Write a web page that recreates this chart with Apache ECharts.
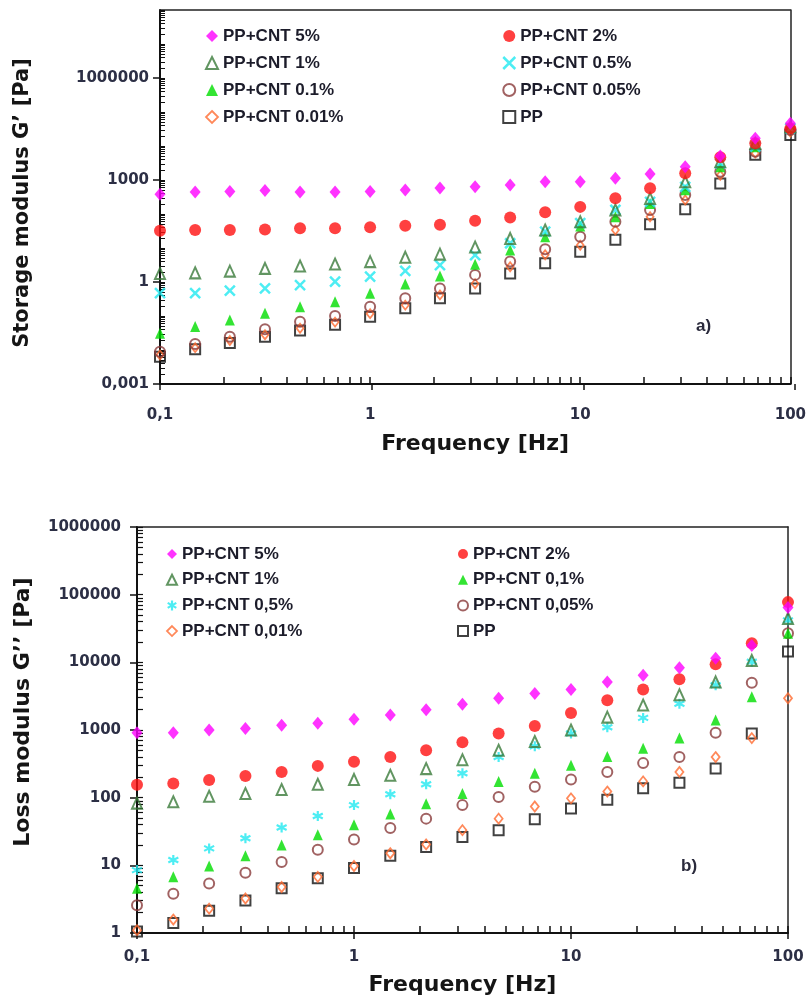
<!DOCTYPE html>
<html><head><meta charset="utf-8">
<script src="https://cdn.jsdelivr.net/npm/echarts@6/dist/echarts.min.js"></script>
<style>
html,body{margin:0;padding:0;background:#fff;width:809px;height:1005px;overflow:hidden}
#a{position:absolute;left:0;top:0;width:809px;height:480px}
#b{position:absolute;left:0;top:480px;width:809px;height:525px}
</style>
</head><body><div id="a"></div><div id="b"></div>
<script>
// ---------- data ----------
const frequency = [0.1,0.147,0.215,0.316,0.464,0.681,1,1.47,2.15,3.16,4.64,6.81,10,14.7,21.5,31.6,46.4,68.1,100];

// (a) Storage modulus G' [Pa]
const storage_5   = [380,440,460,490,440,440,460,510,580,630,710,890,890,1120,1510,2450,5100,17000,47000];
const storage_2   = [32,34,34,35,38,38,41,45,48,63,79,112,162,290,575,1580,4700,12000,33000];
const storage_1   = [1.78,1.86,2.09,2.51,2.95,3.39,3.98,5.37,6.61,10.7,19.1,33.9,58.9,132,288,891,3470,12000,37000];
const storage_05  = [0.468,0.468,0.562,0.646,0.813,1.02,1.45,2.14,3.16,6.17,13.8,30.2,53.7,132,229,631,3090,9550,33000];
const storage_01  = [0.0309,0.049,0.0759,0.12,0.186,0.263,0.468,0.871,1.51,3.31,8.71,21.4,44.7,83.2,204,513,2450,9550,35500];
const storage_005 = [0.0089,0.0151,0.0245,0.0407,0.0676,0.1,0.186,0.331,0.646,1.62,3.98,9.12,21.4,58.9,132,363,1740,6760,29500];
const storage_001 = [0.0071,0.0117,0.0191,0.0282,0.0437,0.0661,0.117,0.209,0.417,0.891,2.82,6.31,12.0,33.9,83.2,257,1380,6170,25700];
const storage_pp  = [0.0063,0.0105,0.0162,0.0245,0.0372,0.055,0.0955,0.17,0.331,0.646,1.78,3.55,7.76,17.4,50.1,138,794,5500,20900];

// (b) Loss modulus G'' [Pa]
const loss_5   = [912,912,1000,1050,1175,1260,1445,1660,2000,2400,2950,3470,3980,5130,6460,8320,11500,17800,64600];
const loss_2   = [155,162,182,209,240,295,339,398,501,661,891,1150,1780,2750,3980,5620,9330,19100,77600];
const loss_1   = [83,87,105,115,132,158,186,214,269,363,501,676,1000,1550,2340,3310,5130,10700,44700];
const loss_05  = [8.5,12.0,17.8,25.1,36.3,53.7,77.6,112,158,229,398,575,891,1100,1510,2450,4570,10200,41700];
const loss_01  = [4.57,6.76,9.77,13.8,20.0,28.2,39.8,57.5,81.3,115,174,229,302,407,537,759,1410,3090,26900];
const loss_005 = [2.57,3.8,5.37,7.76,11.2,17.0,24.0,35.5,49.0,77.6,102,145,186,240,324,398,912,5010,26900];
const loss_001 = [1.1,1.58,2.29,3.24,4.79,6.76,9.77,15.1,20.4,33.1,49.0,74.1,97.7,123,174,240,398,759,2950];
const loss_pp  = [1.05,1.41,2.14,3.02,4.57,6.46,9.12,13.8,18.6,26.3,33.1,47.9,69.2,93.3,138,166,269,891,14500];

// tick labels
const xTickValues = [0.1, 1, 10, 100];
const xTickLabels = ['0,1', '1', '10', '100'];
const storageTickValues = [0.001, 1, 1000, 1000000];
const storageTickLabels = ['0,001', '1', '1000', '1000000'];
const lossTickValues = [1, 10, 100, 1000, 10000, 100000, 1000000];
const lossTickLabels = ['1', '10', '100', '1000', '10000', '100000', '1000000'];

// legend layout (two columns)
const storageLegendCol1 = ['PP+CNT 5%', 'PP+CNT 1%', 'PP+CNT 0.1%', 'PP+CNT 0.01%'];
const storageLegendCol2 = ['PP+CNT 2%', 'PP+CNT 0.5%', 'PP+CNT 0.05%', 'PP'];
const lossLegendCol1 = ['PP+CNT 5%', 'PP+CNT 1%', 'PP+CNT 0,5%', 'PP+CNT 0,01%'];
const lossLegendCol2 = ['PP+CNT 2%', 'PP+CNT 0,1%', 'PP+CNT 0,05%', 'PP'];

// ---------- helpers ----------
function logTicks(e0, e1) {
  const out = [];
  for (let e = e0; e < e1; e++) for (let m = 1; m <= 9; m++) out.push(Number((m * Math.pow(10, e)).toPrecision(3)));
  out.push(Math.pow(10, e1));
  return out;
}
function labelFmt(values, labels) {
  return function (v) {
    for (let i = 0; i < values.length; i++) {
      if (Math.abs(Math.log10(v) - Math.log10(values[i])) < 1e-6) return labels[i];
    }
    return '';
  };
}
const X_PATH = 'path://M0,0L10,10M10,0L0,10';
const AST_PATH = 'path://M5,0L5,10M0.7,2.5L9.3,7.5M9.3,2.5L0.7,7.5';
const C = {
  magenta: '#ff00ff', red: '#ff1010', dkgreen: '#3a7a3a', cyan: '#20e8f0',
  green: '#00dd00', brown: '#8a3b3b', orange: '#ff6a30', black: '#111111'
};
function series(name, values, symbol, size, color, hollow, bw) {
  return {
    type: 'scatter', name: name,
    data: frequency.map((f, i) => [f, values[i]]),
    symbol: symbol, symbolSize: size,
    itemStyle: hollow ? { color: 'rgba(0,0,0,0)', borderColor: color, borderWidth: bw || 2 } : { color: color },
    emphasis: { disabled: true }, silent: true
  };
}
const tickFont = { fontFamily: 'DejaVu Sans', fontWeight: 'bold', fontSize: 15, color: '#2c2f45' };
const titleFont = { fontFamily: 'DejaVu Sans', fontWeight: 'bold', fontSize: 22, color: '#151515' };
const legendText = { fontFamily: 'Liberation Sans', fontWeight: 'bold', fontSize: 17, color: '#1c1c2a', lineHeight: 18 };
const lineStyle = { color: '#111', width: 2 };
const borderStyle = { color: '#222', width: 1.5 };

function buildOption(cfg) {
  const gridRect = { left: cfg.grid.left, top: cfg.grid.top, width: cfg.grid.width, height: cfg.grid.height };
  const xAll = logTicks(-1, 2);
  const yAll = logTicks(cfg.yExp[0], cfg.yExp[1]);
  const xTickStyle = { color: '#111', width: 1.5 };
  const yTickStyle = { color: '#111', width: cfg.yTickWidth };
  return {
    animation: false,
    backgroundColor: '#fff',
    grid: [
      Object.assign({ show: false }, gridRect),
      Object.assign({ show: false }, gridRect)
    ],
    xAxis: [
      {
        gridIndex: 0, type: 'log', logBase: 10, min: 0.1, max: 100, position: 'bottom',
        name: 'Frequency [Hz]', nameLocation: 'middle', nameGap: cfg.xNameGap, nameTextStyle: titleFont,
        axisLine: { show: true, onZero: false, lineStyle: lineStyle },
        axisTick: { show: true, inside: true, length: 7, customValues: xAll, lineStyle: xTickStyle },
        axisLabel: Object.assign({ customValues: xTickValues, formatter: labelFmt(xTickValues, xTickLabels), margin: cfg.xLabelMargin, showMinLabel: true, showMaxLabel: true }, tickFont),
        splitLine: { show: false }, minorTick: { show: false }
      },
      {
        gridIndex: 1, type: 'log', logBase: 10, min: 0.1, max: 100, position: 'bottom',
        axisLine: { show: false },
        axisTick: { show: true, inside: false, length: 6, customValues: xTickValues, lineStyle: xTickStyle },
        axisLabel: { show: false }, splitLine: { show: false }
      },
      {
        gridIndex: 0, type: 'value', min: 0, max: 1, position: 'top',
        axisLine: { show: true, onZero: false, lineStyle: borderStyle },
        axisTick: { show: false }, axisLabel: { show: false }, splitLine: { show: false }
      }
    ],
    yAxis: [
      {
        gridIndex: 0, type: 'log', logBase: 10, min: cfg.yMin, max: cfg.yMax, position: 'left',
        name: cfg.yName, nameLocation: 'middle', nameGap: cfg.yNameGap,
        nameTextStyle: Object.assign({}, titleFont, { fontSize: cfg.yNameSize, padding: cfg.yNamePad }),
        axisLine: { show: true, onZero: false, lineStyle: lineStyle },
        axisTick: { show: true, inside: true, length: cfg.yTickLen, customValues: yAll, lineStyle: yTickStyle },
        axisLabel: Object.assign({ customValues: cfg.yTickValues, formatter: labelFmt(cfg.yTickValues, cfg.yTickLabels), margin: cfg.yLabelMargin, showMinLabel: true, showMaxLabel: true }, tickFont),
        splitLine: { show: false }, minorTick: { show: false }
      },
      {
        gridIndex: 1, type: 'log', logBase: 10, min: cfg.yMin, max: cfg.yMax, position: 'left',
        axisLine: { show: false },
        axisTick: { show: true, inside: false, length: 7, customValues: cfg.yTickValues, lineStyle: { color: '#111', width: 1.5 } },
        axisLabel: { show: false }, splitLine: { show: false }
      },
      {
        gridIndex: 0, type: 'value', min: 0, max: 1, position: 'right',
        axisLine: { show: true, onZero: false, lineStyle: borderStyle },
        axisTick: { show: false }, axisLabel: { show: false }, splitLine: { show: false }
      }
    ],
    legend: cfg.legends.map(l => ({
      left: l.left, top: l.top, orient: 'vertical', padding: 0, itemWidth: l.icon, itemHeight: l.icon,
      itemGap: l.gap, itemTextGap: l.textGap, data: l.data, textStyle: legendText,
      selectedMode: false, itemStyle: { borderWidth: 'inherit' }
    })),
    graphic: [{
      type: 'text', left: cfg.tag.x, top: cfg.tag.y,
      style: { text: cfg.tag.text, font: 'bold 17px "Liberation Sans"', fill: '#2a2a3c' }
    }],
    series: cfg.series
  };
}

// ---------- chart (a) ----------
const chartA = echarts.init(document.getElementById('a'), null, { renderer: 'canvas' });
chartA.setOption(buildOption({
  grid: { left: 160, top: 10, width: 635, height: 374 },
  yMin: 0.001, yMax: 100000000, yExp: [-3, 8], yTickLen: 5, yTickWidth: 1,
  yTickValues: storageTickValues, yTickLabels: storageTickLabels,
  yName: 'Storage modulus G’ [Pa]', yNameGap: 127, yNameSize: 21, yNamePad: [0, 12, 0, 0],
  xNameGap: 49, xLabelMargin: 24, yLabelMargin: 11,
  legends: [
    { left: 205, top: 27, icon: 12, gap: 9, textGap: 0, data: storageLegendCol1 },
    { left: 502, top: 27, icon: 12, gap: 9, textGap: 0, data: storageLegendCol2 }
  ],
  tag: { text: 'a)', x: 696, y: 318 },
  series: [
    series('PP', storage_pp, 'rect', 10, C.black, true, 2),
    series('PP+CNT 0.01%', storage_001, 'diamond', [7, 9], C.orange, true, 1.8),
    series('PP+CNT 0.05%', storage_005, 'circle', 10, C.brown, true, 2),
    series('PP+CNT 0.1%', storage_01, 'triangle', [10, 11], C.green, false),
    series('PP+CNT 0.5%', storage_05, X_PATH, 10, C.cyan, true, 2.5),
    series('PP+CNT 1%', storage_1, 'triangle', [10, 11], C.dkgreen, true, 2),
    series('PP+CNT 2%', storage_2, 'circle', 12, C.red, false),
    series('PP+CNT 5%', storage_5, 'diamond', [11, 13], C.magenta, false)
  ]
}));

// ---------- chart (b) ----------
const chartB = echarts.init(document.getElementById('b'), null, { renderer: 'canvas' });
chartB.setOption(buildOption({
  grid: { left: 137, top: 47, width: 651, height: 406 },
  yMin: 1, yMax: 1000000, yExp: [0, 6], yTickLen: 6, yTickWidth: 1.2,
  yTickValues: lossTickValues, yTickLabels: lossTickLabels,
  yName: 'Loss modulus G’’ [Pa]', yNameGap: 103, yNameSize: 22, yNamePad: [0, 0, 0, 36],
  xNameGap: 41, xLabelMargin: 17, yLabelMargin: 16,
  legends: [
    { left: 166, top: 65, icon: 10, gap: 7.7, textGap: 6, data: lossLegendCol1 },
    { left: 457, top: 65, icon: 10, gap: 7.7, textGap: 6, data: lossLegendCol2 }
  ],
  tag: { text: 'b)', x: 681, y: 378 },
  series: [
    series('PP', loss_pp, 'rect', 10, C.black, true, 2),
    series('PP+CNT 0,01%', loss_001, 'diamond', [8, 10], C.orange, true, 1.8),
    series('PP+CNT 0,05%', loss_005, 'circle', 10, C.brown, true, 2),
    series('PP+CNT 0,1%', loss_01, 'triangle', [10, 11], C.green, false),
    series('PP+CNT 0,5%', loss_05, AST_PATH, 10, C.cyan, true, 2.2),
    series('PP+CNT 1%', loss_1, 'triangle', [10, 11], C.dkgreen, true, 2),
    series('PP+CNT 2%', loss_2, 'circle', 12, C.red, false),
    series('PP+CNT 5%', loss_5, 'diamond', [11, 13], C.magenta, false)
  ]
}));
</script>
</body></html>
